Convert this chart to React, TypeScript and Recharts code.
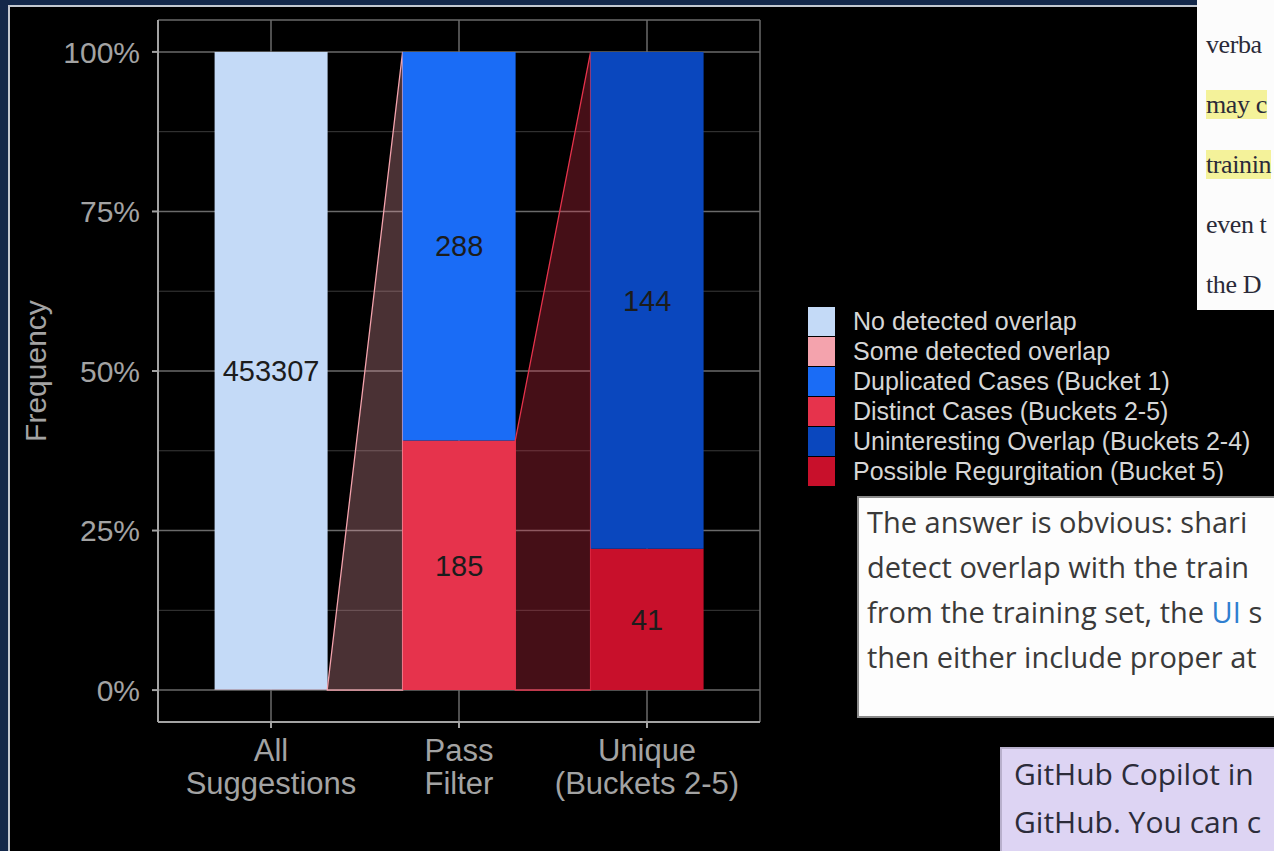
import React from 'react'
import {
  BarChart,
  Bar,
  XAxis,
  YAxis,
  CartesianGrid,
  LabelList,
  Rectangle,
} from 'recharts'

// category names (\n = line break in the axis label)
const CATEGORIES = ['All\nSuggestions', 'Pass\nFilter', 'Unique\n(Buckets 2-5)']

// counts per category
const NO_OVERLAP = [453307, 0, 0]
const SOME_OVERLAP = [473, 0, 0]
const DUPLICATED = [0, 288, 0]
const DISTINCT = [0, 185, 0]
const UNINTERESTING = [0, 0, 144]
const REGURGITATION = [0, 0, 41]

// which segment of bar i flows into bar i + 1
const FLOW_FROM = ['someOverlap', 'distinct']

const Y_TICKS = [0, 0.25, 0.5, 0.75, 1]
const Y_MINOR = [0.125, 0.375, 0.625, 0.875]

const SERIES: Record<string, number[]> = {
  someOverlap: SOME_OVERLAP,
  noOverlap: NO_OVERLAP,
  distinct: DISTINCT,
  duplicated: DUPLICATED,
  regurgitation: REGURGITATION,
  uninteresting: UNINTERESTING,
}
// bottom -> top
const STACK_ORDER = ['someOverlap', 'noOverlap', 'distinct', 'duplicated', 'regurgitation', 'uninteresting']

const LEGEND_ORDER = ['noOverlap', 'someOverlap', 'duplicated', 'distinct', 'uninteresting', 'regurgitation']
const LABELS: Record<string, string> = {
  noOverlap: 'No detected overlap',
  someOverlap: 'Some detected overlap',
  duplicated: 'Duplicated Cases (Bucket 1)',
  distinct: 'Distinct Cases (Buckets 2-5)',
  uninteresting: 'Uninteresting Overlap (Buckets 2-4)',
  regurgitation: 'Possible Regurgitation (Bucket 5)',
}
const COLORS: Record<string, string> = {
  noOverlap: '#c4daf7',
  someOverlap: '#f4a3ad',
  duplicated: '#1a6cf6',
  distinct: '#e6334c',
  uninteresting: '#0a47be',
  regurgitation: '#c8102b',
}
const SHOW_LABEL = ['noOverlap', 'duplicated', 'distinct', 'uninteresting', 'regurgitation']

const CAT_GAP = 0.2
const FONT = '"Liberation Sans", Arial, sans-serif'
const AXIS_GREY = '#a3a3a3'

const totalAt = (i: number) => STACK_ORDER.reduce((s, k) => s + SERIES[k][i], 0)

// share of each bar (0..1) for the stack, raw count kept for the labels
const rows = CATEGORIES.map((cat, i) => {
  const row: any = { cat }
  const total = totalAt(i)
  STACK_ORDER.forEach((k) => {
    row[k] = SERIES[k][i] / total
    row[k + 'N'] = SERIES[k][i]
  })
  if (i > 0) {
    const src = FLOW_FROM[i - 1]
    row.flowKey = src
    row.flowFrac = SERIES[src][i - 1] / totalAt(i - 1)
  }
  return row
})

// bar segment; the lowest segment of a bar also draws the band coming in from the previous bar
function Segment(props: any) {
  const { x, y, width, height, fill, payload, seriesKey } = props
  if (!height || height <= 0) return null
  const firstKey = STACK_ORDER.find((k) => payload[k] > 0)
  let flow = null
  if (payload.flowFrac && firstKey === seriesKey) {
    const unit = height / payload[seriesKey]
    const bottom = y + height
    const gap = (width * 2 * CAT_GAP) / (1 - 2 * CAT_GAP)
    const pts = [
      [x - gap, bottom],
      [x - gap, bottom - unit * payload.flowFrac],
      [x, bottom - unit],
      [x, bottom],
    ]
    const c = COLORS[payload.flowKey]
    flow = (
      <polygon
        points={pts.map((p) => p.join(',')).join(' ')}
        fill={c}
        fillOpacity={0.3}
        stroke={c}
        strokeWidth={1.3}
      />
    )
  }
  return (
    <g>
      {flow}
      <Rectangle x={x} y={y} width={width} height={height} fill={fill} />
    </g>
  )
}

function CategoryTick(props: any) {
  const { x, y, payload } = props
  const lines = String(payload.value).split('\n')
  return (
    <text x={x} y={y} textAnchor="middle" fill={AXIS_GREY} fontSize={31} fontFamily={FONT}>
      {lines.map((l, i) => (
        <tspan key={i} x={x} dy={i === 0 ? 31 : 33}>
          {l}
        </tspan>
      ))}
    </text>
  )
}

const hideZero = (v: any) => (v ? v : '')

// visible fragments of the screenshots pasted over the right side
const BOX_A = ['verba', 'may c', 'trainin', 'even t', 'the D']
const BOX_A_MARK = [false, true, true, false, false]
const BOX_B = [
  'The answer is obvious: shari',
  'detect overlap with the train',
  'from the training set, the ',
  'then either include proper at',
]
const BOX_C = ['GitHub Copilot in', 'GitHub. You can c']

export default function App() {
  return (
    <div
      style={{
        position: 'absolute',
        left: 0,
        top: 0,
        width: 1274,
        height: 851,
        background: '#13284a',
        overflow: 'hidden',
        fontFamily: FONT,
      }}
    >
      <div
        style={{
          position: 'absolute',
          left: 8,
          top: 5,
          right: 0,
          bottom: 0,
          background: '#000',
          borderTop: '2px solid #c3c8d0',
          borderLeft: '2px solid #c3c8d0',
        }}
      />
      <div style={{ position: 'absolute', left: 0, top: 0 }}>
        <BarChart
          width={780}
          height={851}
          data={rows}
          barCategoryGap={`${CAT_GAP * 100}%`}
          margin={{ top: 20, right: 20, bottom: 29, left: 0 }}
        >
          <CartesianGrid
            horizontalValues={Y_MINOR}
            vertical={false}
            stroke="#3a3a3a"
            strokeWidth={1}
          />
          <CartesianGrid stroke="#6a6a6a" strokeWidth={1.5} />
          <XAxis
            dataKey="cat"
            padding={{ left: 19, right: 19 }}
            height={100}
            interval={0}
            tickSize={6}
            axisLine={{ stroke: AXIS_GREY, strokeWidth: 2 }}
            tickLine={{ stroke: AXIS_GREY, strokeWidth: 2 }}
            tick={<CategoryTick />}
          />
          <YAxis
            width={158}
            type="number"
            domain={[-0.05, 1.05]}
            allowDataOverflow
            ticks={Y_TICKS}
            tickFormatter={(v: number) => `${Math.round(v * 100)}%`}
            tickSize={6}
            tickMargin={12}
            axisLine={{ stroke: AXIS_GREY, strokeWidth: 2 }}
            tickLine={{ stroke: AXIS_GREY, strokeWidth: 2 }}
            tick={{ fill: AXIS_GREY, fontSize: 30, fontFamily: FONT }}
            label={{
              value: 'Frequency',
              angle: -90,
              position: 'insideLeft',
              offset: 35,
              fill: AXIS_GREY,
              fontSize: 30,
              fontFamily: FONT,
              style: { textAnchor: 'middle' },
            }}
          />
          {STACK_ORDER.map((k) => (
            <Bar
              key={k}
              dataKey={k}
              stackId="s"
              fill={COLORS[k]}
              isAnimationActive={false}
              shape={(p: any) => <Segment {...p} seriesKey={k} />}
            >
              {SHOW_LABEL.includes(k) && (
                <LabelList
                  dataKey={k + 'N'}
                  position="center"
                  formatter={hideZero}
                  fill="#1c1c1c"
                  fontSize={29}
                  fontFamily={FONT}
                />
              )}
            </Bar>
          ))}
        </BarChart>
      </div>

      {/* legend */}
      <div style={{ position: 'absolute', left: 808, top: 306 }}>
        {LEGEND_ORDER.map((k) => (
          <div key={k} style={{ display: 'flex', alignItems: 'center', height: 30 }}>
            <div style={{ width: 27, height: 29, background: COLORS[k] }} />
            <span style={{ marginLeft: 18, fontSize: 25, color: '#d6d6d6', whiteSpace: 'nowrap' }}>
              {LABELS[k]}
            </span>
          </div>
        ))}
      </div>

      {/* pasted document snippets */}
      <div
        style={{
          position: 'absolute',
          left: 1197,
          top: 0,
          width: 77,
          height: 310,
          background: '#fcfcfc',
          overflow: 'hidden',
          fontFamily: '"Liberation Serif", "DejaVu Serif", serif',
          fontSize: 26,
          letterSpacing: '-0.4px',
          color: '#2a2a38',
        }}
      >
        {BOX_A.map((t, i) => (
          <div key={i} style={{ position: 'absolute', left: 9, top: 30 + i * 60, whiteSpace: 'nowrap', lineHeight: '30px' }}>
            <span style={{ background: BOX_A_MARK[i] ? '#f4f29a' : 'transparent' }}>{t}</span>
          </div>
        ))}
      </div>

      <div
        style={{
          position: 'absolute',
          left: 857,
          top: 496,
          width: 440,
          height: 218,
          background: '#fdfdfd',
          border: '2px solid #8a8a8a',
          overflow: 'hidden',
          fontFamily: '"Open Sans", sans-serif',
          fontSize: 29,
          color: '#3a3a3a',
        }}
      >
        {BOX_B.map((t, i) => (
          <div key={i} style={{ position: 'absolute', left: 8, top: 6 + i * 45, whiteSpace: 'nowrap', lineHeight: '36px' }}>
            {t}
            {i === 2 && (
              <>
                <span style={{ color: '#2f7fd0' }}>UI</span> s
              </>
            )}
          </div>
        ))}
      </div>

      <div
        style={{
          position: 'absolute',
          left: 1000,
          top: 747,
          width: 300,
          height: 120,
          background: '#ddd4f3',
          borderTop: '2px solid #b8b0cc',
          borderLeft: '2px solid #b8b0cc',
          overflow: 'hidden',
          fontFamily: '"Open Sans", sans-serif',
          fontSize: 30,
          color: '#2c2c3a',
        }}
      >
        {BOX_C.map((t, i) => (
          <div key={i} style={{ position: 'absolute', left: 12, top: 5 + i * 48, whiteSpace: 'nowrap', lineHeight: '40px' }}>
            {t}
          </div>
        ))}
      </div>
    </div>
  )
}
